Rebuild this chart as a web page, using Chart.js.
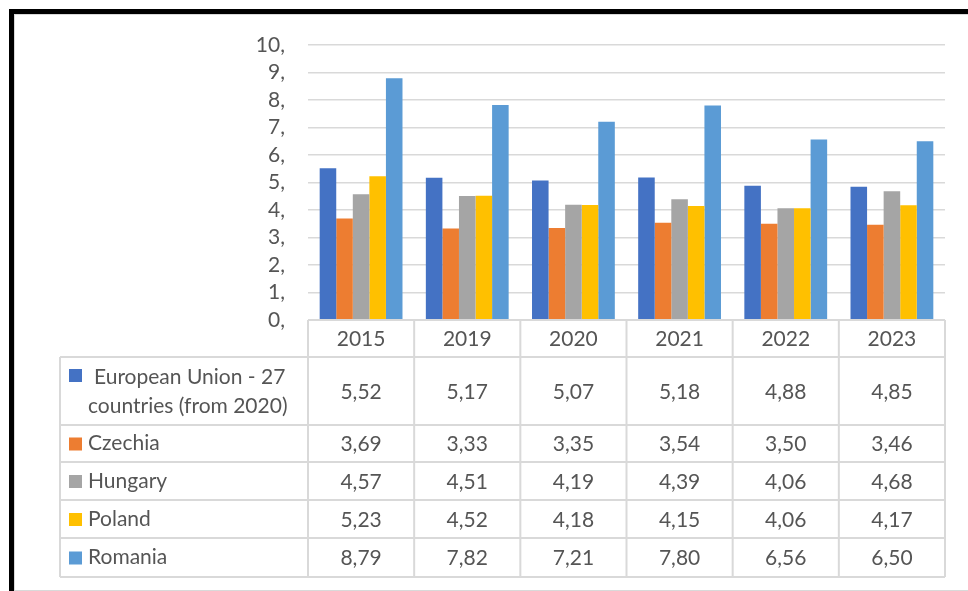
<!DOCTYPE html>
<html lang="en">
<head>
<meta charset="UTF-8">
<title>Chart</title>
<script src="https://cdn.jsdelivr.net/npm/chart.js"></script>
<style>
    html, body { margin: 0; padding: 0; background: #fff; }
    #wrap { position: relative; width: 968px; height: 591px; overflow: hidden; }
    #frame {
        position: absolute; left: 9px; top: 9px; width: 970px; height: 580px;
        border-left: 5px solid #000; border-top: 5px solid #000;
    }
    #inner {
        position: absolute; left: 14px; top: 14px; width: 970px; height: 575px;
        border-left: 1px solid #d9d9d9; border-top: 1px solid #d9d9d9; border-bottom: 2px solid #d9d9d9;
    }
    #chart { position: absolute; left: 0; top: 0; }
</style>
</head>
<body>
<div id="wrap">
    <div id="frame"></div>
    <div id="inner"></div>
    <canvas id="chart" width="968" height="591"></canvas>
</div>
<script>
    // data
    const years = ['2015', '2019', '2020', '2021', '2022', '2023'];
    const seriesNames = [['European Union - 27', 'countries (from 2020)'], 'Czechia', 'Hungary', 'Poland', 'Romania'];
    const euValues = [5.52, 5.17, 5.07, 5.18, 4.88, 4.85];
    const czechiaValues = [3.69, 3.33, 3.35, 3.54, 3.50, 3.46];
    const hungaryValues = [4.57, 4.51, 4.19, 4.39, 4.06, 4.68];
    const polandValues = [5.23, 4.52, 4.18, 4.15, 4.06, 4.17];
    const romaniaValues = [8.79, 7.82, 7.21, 7.80, 6.56, 6.50];
    const yTicks = [0, 1, 2, 3, 4, 5, 6, 7, 8, 9, 10];

    const colors = ['#4472C4', '#ED7D31', '#A5A5A5', '#FFC000', '#5B9BD5'];
    const allValues = [euValues, czechiaValues, hungaryValues, polandValues, romaniaValues];
    const textColor = '#555555';
    const fontFamily = 'Lato, "Open Sans", sans-serif';
    const fontSize = 21;
    const gridColor = '#D9D9D9';

    const fmt = v => v.toFixed(2).replace('.', ',');

    // header row + series rows, heights in px
    const rowHeights = [37, 68, 37, 38, 38, 39];
    const labelLeft = 60;

    // draws the data table (with legend keys) under the plot
    const dataTablePlugin = {
        id: 'dataTable',
        afterDraw(chart) {
            const ctx = chart.ctx;
            const x = chart.scales.x;
            const area = chart.chartArea;
            const colW = (area.right - area.left) / years.length;
            const top = area.bottom;
            const rowTops = [top];
            rowHeights.forEach((h, i) => rowTops.push(rowTops[i] + h));
            const bottom = rowTops[rowTops.length - 1];

            ctx.save();
            ctx.strokeStyle = gridColor;
            ctx.lineWidth = 2;
            ctx.beginPath();
            // horizontal lines
            ctx.moveTo(area.left, top); ctx.lineTo(area.right, top);
            for (let r = 1; r < rowTops.length; r++) {
                ctx.moveTo(labelLeft, rowTops[r]); ctx.lineTo(area.right, rowTops[r]);
            }
            // vertical lines
            ctx.moveTo(labelLeft, rowTops[1]); ctx.lineTo(labelLeft, bottom);
            for (let c = 0; c <= years.length; c++) {
                const px = area.left + c * colW;
                ctx.moveTo(px, top); ctx.lineTo(px, bottom);
            }
            ctx.stroke();

            ctx.fillStyle = textColor;
            ctx.font = fontSize + 'px ' + fontFamily;
            ctx.textBaseline = 'middle';
            ctx.textAlign = 'center';
            years.forEach((yr, i) => {
                ctx.fillText(yr, x.getPixelForValue(i), (rowTops[0] + rowTops[1]) / 2 + 1);
            });
            allValues.forEach((vals, s) => {
                const cy = (rowTops[s + 1] + rowTops[s + 2]) / 2 + 1;
                vals.forEach((v, i) => {
                    ctx.fillText(fmt(v), x.getPixelForValue(i), cy);
                });
            });

            // legend keys and series names
            ctx.textAlign = 'left';
            seriesNames.forEach((name, s) => {
                const cy = (rowTops[s + 1] + rowTops[s + 2]) / 2;
                ctx.fillStyle = colors[s];
                if (Array.isArray(name)) {
                    ctx.fillRect(69, rowTops[s + 1] + 12, 13, 13);
                    ctx.fillStyle = textColor;
                    ctx.fillText(name[0], 94, cy - 14);
                    ctx.fillText(name[1], 88, cy + 15);
                } else {
                    ctx.fillRect(69, cy - 6, 13, 13);
                    ctx.fillStyle = textColor;
                    ctx.fillText(name, 88, cy);
                }
            });
            ctx.restore();
        }
    };

    const ctx = document.getElementById('chart').getContext('2d');
    const chart = new Chart(ctx, {
        type: 'bar',
        data: {
            labels: years,
            datasets: seriesNames.map((n, i) => ({
                label: Array.isArray(n) ? n.join(' ') : n,
                data: allValues[i],
                backgroundColor: colors[i],
                borderWidth: 0,
                categoryPercentage: 0.78,
                barPercentage: 1.0
            }))
        },
        options: {
            responsive: false,
            animation: false,
            layout: { padding: { left: 0, right: 23, top: 45, bottom: 271 } },
            plugins: {
                legend: { display: false },
                tooltip: { enabled: false }
            },
            scales: {
                x: {
                    ticks: { display: false },
                    grid: { display: false, drawTicks: false },
                    border: { display: false },
                    afterFit: s => { s.height = 0; }
                },
                y: {
                    min: 0,
                    max: 10,
                    afterBuildTicks: s => { s.ticks = yTicks.map(v => ({ value: v })); },
                    ticks: {
                        color: textColor,
                        font: { family: fontFamily, size: fontSize },
                        padding: 23,
                        autoSkip: false,
                        callback: v => v + ','
                    },
                    grid: { color: gridColor, lineWidth: 1.5, drawTicks: false },
                    border: { display: false },
                    afterFit: s => { s.width = 308; }
                }
            }
        },
        plugins: [dataTablePlugin]
    });
</script>
</body>
</html>
